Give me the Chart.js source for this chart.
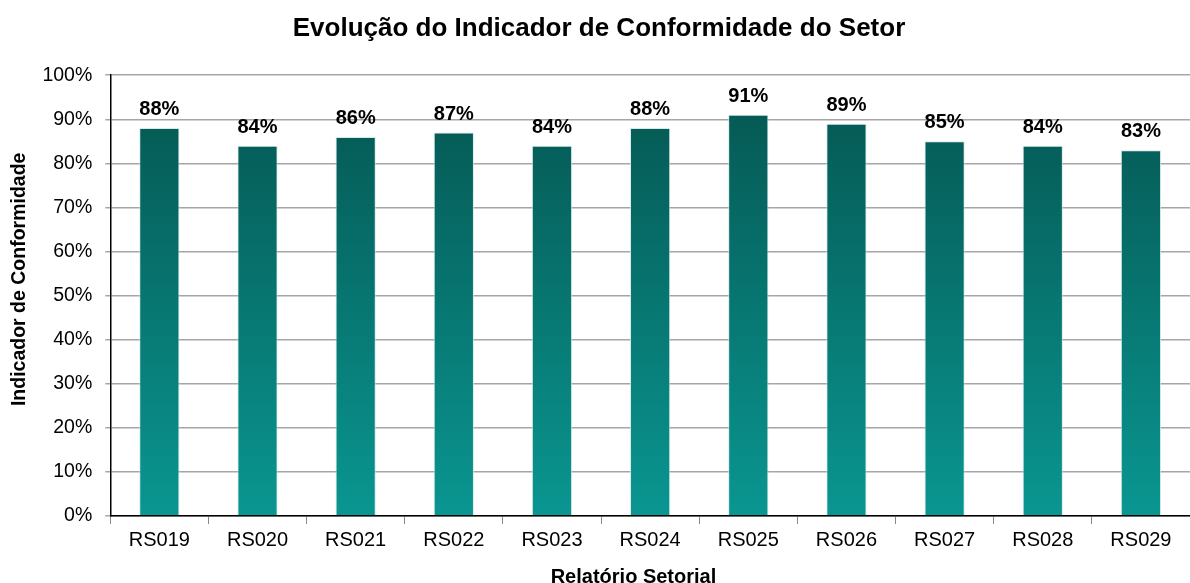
<!DOCTYPE html>
<html lang="pt">
<head>
    <meta charset="UTF-8">
    <script src="https://cdn.jsdelivr.net/npm/chart.js"></script>
    <title>Indicador de Conformidade</title>
    <style>
        html, body { margin: 0; padding: 0; background: #fff; }
        #grafico { width: 1190px; height: 583px; }
    </style>
</head>
<body>
    <div id="grafico"><canvas id="myChart"></canvas></div>

<script>
    // dados
    var relatorios = ['RS019', 'RS020', 'RS021', 'RS022', 'RS023', 'RS024', 'RS025', 'RS026', 'RS027', 'RS028', 'RS029']
    var conformidade = [88, 84, 86, 87, 84, 88, 91, 89, 85, 84, 83]
    var ticksY = [0, 10, 20, 30, 40, 50, 60, 70, 80, 90, 100]

    const fonte = "'Liberation Sans', Arial, sans-serif"

    // rótulos em cima das barras
    const rotulos = {
        id: 'rotulos',
        afterDatasetsDraw(chart) {
            const ctx = chart.ctx
            const meta = chart.getDatasetMeta(0)
            ctx.save()
            ctx.font = 'bold 20px ' + fonte
            ctx.fillStyle = '#000'
            ctx.textAlign = 'center'
            ctx.textBaseline = 'alphabetic'
            meta.data.forEach((barra, i) => {
                ctx.fillText(conformidade[i] + '%', barra.x, barra.y - 13)
            })
            ctx.restore()
        }
    }

    function gradiente(context) {
        const area = context.chart.chartArea
        if (!area) return '#077a75'
        const g = context.chart.ctx.createLinearGradient(0, area.top, 0, area.bottom)
        g.addColorStop(0, '#05544f')
        g.addColorStop(1, '#0a9691')
        return g
    }

    new Chart(document.getElementById('myChart'), {
        type: 'bar',
        data: {
            labels: relatorios,
            datasets: [{
                label: 'Indicador de Conformidade',
                data: conformidade,
                backgroundColor: gradiente,
                borderColor: 'rgba(200, 230, 228, 0.8)',
                borderWidth: 1,
                categoryPercentage: 1,
                barPercentage: 0.41
            }]
        },
        plugins: [rotulos],
        options: {
            responsive: true,
            maintainAspectRatio: false,
            animation: false,
            layout: { padding: { left: 8, right: 0, top: 4, bottom: -4 } },
            plugins: {
                legend: { display: false },
                tooltip: { enabled: false },
                title: {
                    display: true,
                    text: 'Evolução do Indicador de Conformidade do Setor',
                    color: '#000',
                    font: { family: fonte, size: 26, weight: 'bold' },
                    padding: { top: 9, bottom: 31 }
                }
            },
            scales: {
                x: {
                    grid: { offset: true, drawOnChartArea: false, tickLength: 8, color: '#888' },
                    border: { color: '#000', width: 1.5 },
                    ticks: { color: '#000', font: { family: fonte, size: 20 }, padding: 4, maxRotation: 0 },
                    title: {
                        display: true,
                        // espaços no fim: o título fica um pouco à esquerda, como no original
                        text: 'Relatório Setorial      ',
                        color: '#000',
                        font: { family: fonte, size: 20, weight: 'bold', lineHeight: 1 },
                        padding: { top: 11, bottom: 0 }
                    }
                },
                y: {
                    min: 0,
                    max: 100,
                    afterBuildTicks(scale) {
                        scale.ticks = ticksY.map(v => ({ value: v }))
                    },
                    grid: { color: '#a6a6a6', lineWidth: 1.5, tickLength: 5 },
                    border: { color: '#000', width: 1.5 },
                    ticks: {
                        color: '#000',
                        font: { family: fonte, size: 19.5 },
                        padding: 13,
                        callback: v => v + '%'
                    },
                    title: {
                        display: true,
                        // espaços no início: o título sobe um pouco
                        text: '      Indicador de Conformidade',
                        color: '#000',
                        font: { family: fonte, size: 19.5, weight: 'bold' },
                        padding: { top: 0, bottom: -2 }
                    }
                }
            }
        }
    })
</script>
</body>
</html>
